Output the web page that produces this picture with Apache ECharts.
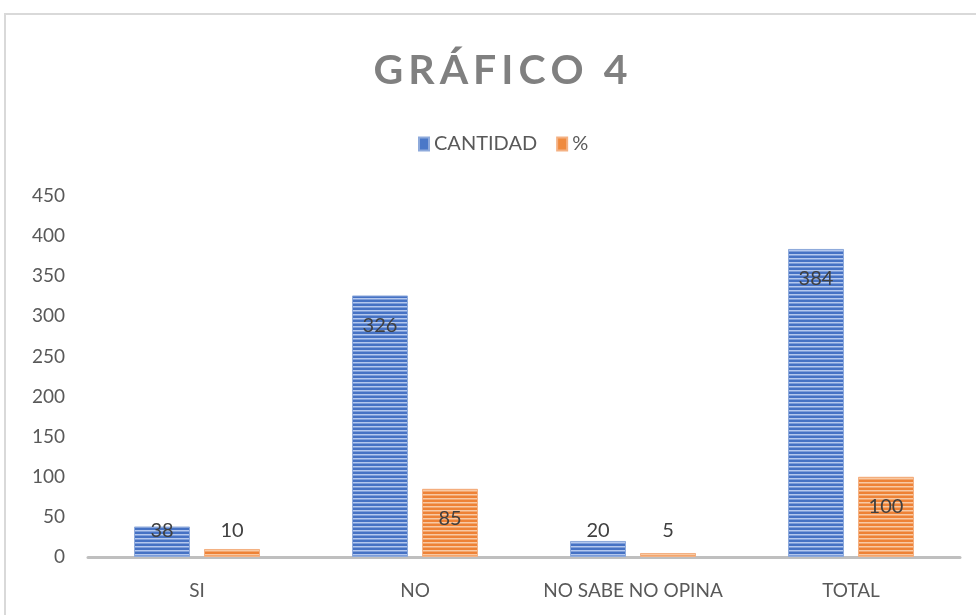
<!DOCTYPE html>
<html>
<head>
<meta charset="utf-8">
<script src="https://cdn.jsdelivr.net/npm/echarts@6/dist/echarts.min.js"></script>
<style>
  html, body { margin: 0; padding: 0; background: #fff; }
  #chart { width: 976px; height: 615px; }
</style>
</head>
<body>
<div id="chart"></div>
<script>
const categories = ['SI', 'NO', 'NO SABE NO OPINA', 'TOTAL']
const cantidad = [38, 326, 20, 384]
const porcentaje = [10, 85, 5, 100]
const yTicks = { min: 0, max: 450, interval: 50 }
const titleText = 'GRÁFICO 4'

// striped fill like the Excel pattern
function stripes (dark, light) {
  const c = document.createElement('canvas')
  c.width = 4
  c.height = 4
  const ctx = c.getContext('2d')
  ctx.fillStyle = dark
  ctx.fillRect(0, 0, 4, 4)
  ctx.fillStyle = light
  ctx.fillRect(0, 2, 4, 1.5)
  return { image: c, repeat: 'repeat' }
}

const font = 'Lato, "Open Sans", sans-serif'

// big bars: label inside the top; short bars: label sits at a fixed height above the axis
function withLabels (values) {
  return values.map(v => ({
    value: v,
    label: v > 50
      ? { position: 'insideTop', distance: 20 }
      : { position: 'insideBottom', distance: 16 }
  }))
}

// spread the title letters a bit (Excel uses character spacing)
const spacedTitle = Array.from(titleText).map(ch => '{c|' + ch + '}').join('')

const chart = echarts.init(document.getElementById('chart'))
chart.setOption({
  animation: false,
  textStyle: { fontFamily: font },
  title: {
    text: spacedTitle,
    left: 366,
    top: 45,
    textStyle: {
      rich: {
        c: { fontSize: 41, fontWeight: 'bold', color: '#808080', fontFamily: font, padding: [0, 2.5] }
      }
    }
  },
  legend: {
    top: 129,
    left: 413,
    itemWidth: 10,
    itemHeight: 13,
    itemGap: 19,
    textStyle: { fontSize: 20, color: '#595959' },
    data: [
      { name: 'CANTIDAD', icon: 'rect', itemStyle: { color: '#4a78c8' } },
      { name: '%', icon: 'rect', itemStyle: { color: '#ef8a3e' } }
    ]
  },
  grid: { left: 88, right: 16, top: 196, bottom: 58 },
  graphic: [{
    type: 'rect',
    shape: { x: 5, y: 14, width: 1000, height: 700 },
    style: { fill: 'none', stroke: '#d9d9d9', lineWidth: 2 },
    silent: true
  }],
  xAxis: {
    type: 'category',
    data: categories,
    axisTick: { show: false },
    axisLine: { lineStyle: { color: '#bfbfbf', width: 3 } },
    axisLabel: { fontSize: 19, color: '#595959', margin: 24, interval: 0 }
  },
  yAxis: {
    type: 'value',
    min: yTicks.min,
    max: yTicks.max,
    interval: yTicks.interval,
    splitLine: { show: false },
    axisLine: { show: false },
    axisTick: { show: false },
    axisLabel: { fontSize: 19, color: '#595959', margin: 23 }
  },
  series: [
    {
      name: 'CANTIDAD',
      type: 'bar',
      barWidth: 56,
      barGap: '25%',
      data: withLabels(cantidad),
      itemStyle: {
        color: stripes('#4672c4', '#b4c8ee'),
        borderColor: '#8eaadb',
        borderWidth: 1
      },
      label: { show: true, fontSize: 20, color: '#404040' }
    },
    {
      name: '%',
      type: 'bar',
      barWidth: 56,
      data: withLabels(porcentaje),
      itemStyle: {
        color: stripes('#ee8236', '#f8c9a4'),
        borderColor: '#f4b183',
        borderWidth: 1
      },
      label: { show: true, fontSize: 20, color: '#404040' }
    }
  ]
})
</script>
</body>
</html>
